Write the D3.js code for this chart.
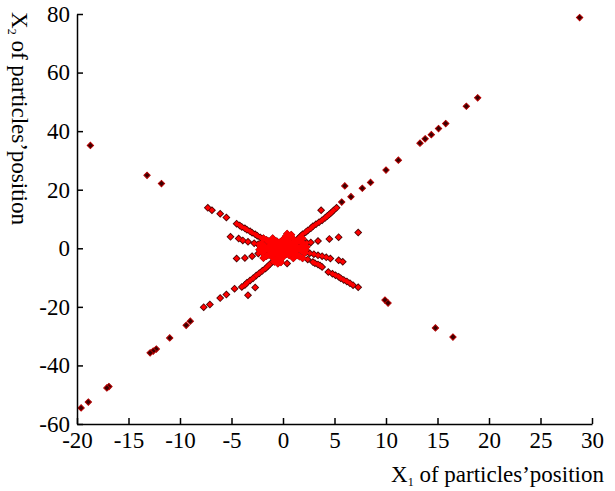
<!DOCTYPE html>
<html>
<head>
<meta charset="utf-8">
<script src="https://cdn.jsdelivr.net/npm/d3@7"></script>
<style>
  body { margin: 0; background: #fff; }
  svg { display: block; }
  .axis text { font-family: "Liberation Serif", "Times New Roman", serif; font-size: 23px; fill: #000; }
  .axis path, .axis line { stroke: #000; stroke-width: 1.5; }
  .title { font-family: "Liberation Serif", "Times New Roman", serif; font-size: 23px; fill: #000; }
</style>
</head>
<body>
<svg id="chart" width="615" height="491"></svg>
<script>
// tick labels
var xTicks = [-20, -15, -10, -5, 0, 5, 10, 15, 20, 25, 30];
var yTicks = [-60, -40, -20, 0, 20, 40, 60, 80];

// isolated particles far from the swarm centre  [x1, x2]
var farPoints = [
  [28.8, 78.8], [18.9, 51.4], [17.8, 48.5], [15.8, 42.6], [15.1, 40.9], [14.4, 38.8],
  [13.8, 37.4], [13.3, 35.9], [11.2, 30.1], [10.0, 26.7], [8.5, 22.5], [7.7, 20.5],
  [6.0, 21.3], [6.6, 17.6], [5.7, 15.8],
  [-18.7, 35.1], [-13.2, 24.9], [-11.8, 22.1],
  [9.9, -17.7], [10.2, -18.7], [14.8, -27.2], [16.5, -30.3],
  [-9.0, -24.9], [-9.4, -26.3], [-11.0, -30.6], [-12.3, -34.4], [-12.6, -35.1], [-12.9, -35.7],
  [-16.9, -47.2], [-17.1, -47.7], [-18.9, -52.5], [-19.6, -54.5]
];

// particles along the arms of the X
var armPoints = [
  [3.7, 13.0], [7.3, 5.4],
  [5.2, 13.8], [4.9, 12.9], [4.7, 12.2], [4.5, 11.6], [4.3, 11.0], [4.1, 10.4], [3.8, 9.6], [3.5, 8.9], [3.2, 8.2],
  [2.9, 7.5], [2.7, 6.8], [2.4, 6.1], [2.2, 5.5], [1.9, 4.8], [1.7, 4.1], [1.5, 3.4], [1.3, 2.7],
  [5.4, 3.8], [4.5, 3.2], [3.4, 2.5], [2.7, 2.0], [2.3, 1.9], [2.0, 1.7],
  [5.8, -4.6], [5.4, -4.1], [4.6, -3.5], [4.2, -3.1], [3.8, -2.7], [3.4, -2.4], [3.0, -2.0], [2.6, -1.7], [2.2, -1.4],
  [3.8, -6.4], [3.6, -5.9], [3.4, -5.5], [3.1, -5.1], [2.9, -4.7], [2.4, -3.8],
  [4.4, -8.1], [4.8, -8.7], [5.1, -9.2], [5.4, -9.7], [5.6, -10.2], [5.9, -10.8], [6.2, -11.3], [6.5, -11.9],
  [6.8, -12.6], [7.3, -13.3],
  [0.4, -5.2],
  [-7.3, 13.8], [-6.9, 13.0], [-6.1, 11.8], [-5.5, 10.5],
  [-4.5, 8.4], [-4.2, 7.8], [-4.0, 7.3], [-3.7, 6.8], [-3.5, 6.3], [-3.2, 5.8], [-3.0, 5.3], [-2.7, 4.8],
  [-2.5, 4.3], [-2.2, 3.7], [-2.0, 3.2],
  [-5.1, 3.9], [-4.3, 3.3], [-3.9, 2.7], [-3.4, 2.2], [-2.8, 1.7], [-2.4, 1.4],
  [-4.5, -3.5], [-3.7, -3.3], [-3.0, -2.7], [-2.4, -1.8], [-1.8, -1.0],
  [-4.0, -13.2], [-3.7, -12.5], [-3.5, -11.8], [-3.2, -11.0], [-2.9, -10.2], [-2.6, -9.3], [-2.3, -8.5],
  [-2.0, -7.7], [-1.7, -6.9], [-1.5, -6.2], [-1.3, -5.5], [-1.0, -4.6], [-0.8, -3.8],
  [-4.7, -13.8], [-5.5, -15.8], [-6.1, -17.0], [-7.1, -19.2], [-7.7, -20.1],
  [-2.7, -13.4], [-3.4, -16.0]
];

// dense cloud at the centre
var corePoints = [
  [0, 0], [0.4, 0.6], [-0.4, -0.6], [0.8, 1.2], [-0.8, -1.2], [1.2, 1.9], [-1.2, -1.9], [1.6, 2.6], [-1.6, -2.6],
  [0.4, -0.7], [-0.4, 0.7], [0.8, -1.4], [-0.8, 1.4], [1.2, -2.1], [-1.2, 2.1], [1.6, -2.8], [-1.6, 2.8],
  [0, 1.5], [0, -1.5], [0, 3], [0, -3], [0.3, 4.2], [-0.3, -4.2], [0.5, 3.6], [-0.5, -3.6],
  [0.8, 0], [-0.8, 0], [1.4, 0.4], [-1.4, -0.4], [1.9, 0], [-1.9, 0], [1.4, -0.6], [-1.4, 0.6],
  [0.6, 2.2], [-0.6, -2.2], [-0.6, 2.4], [0.6, -2.4], [1, 3.2], [-1, -3.2], [-1, 3.4], [1, -3.4],
  [2.0, 1.5], [-2.0, -1.5], [2.1, -1.6], [-2.1, 1.6], [-0.2, -4.8],
  [0.2, 0.3], [-0.2, -0.3], [0.6, 0.9], [-0.6, -0.9], [1.0, 1.5], [-1.0, -1.5], [1.4, 2.2], [-1.4, -2.2],
  [0.6, -1.0], [-0.6, 1.0], [1.0, -1.8], [-1.0, 1.8], [1.4, -2.4], [-1.4, 2.4],
  [0.3, 2.2], [-0.3, -2.2], [0.3, -2.0], [-0.3, 2.0], [1.1, 0.8], [-1.1, -0.8], [1.1, -0.9], [-1.1, 0.9],
  [0.5, 0.3], [-0.5, -0.3], [0.2, -1.2], [-0.2, 1.2], [1.8, 0.8], [-1.8, -0.8], [1.8, -0.8], [-1.8, 0.8],
  [2.3, 0.5], [-2.3, -0.5], [2.2, -0.6], [-2.2, 0.6], [0.4, 5.0], [-0.5, -5.2], [1.9, 3.3], [-1.9, -3.3],
  [1.9, -3.4], [-1.9, 3.4], [0.8, 4.6], [-0.8, -4.6]
];

var svg = d3.select("#chart");

var x = d3.scaleLinear().domain([-20, 30]).range([77, 592]);
var y = d3.scaleLinear().domain([-60, 80]).range([424, 14]);

// small diamond = square turned by 45 degrees
function place(d) { return "translate(" + x(d[0]) + "," + y(d[1]) + ") rotate(45)"; }

// far points: dark core with reddish rim
svg.append("g").selectAll("path")
  .data(farPoints)
  .enter()
  .append("path")
  .attr("transform", place)
  .attr("d", d3.symbol().type(d3.symbolSquare).size(20))
  .style("fill", "#3a0000")
  .style("stroke", "#b40000")
  .style("stroke-width", 1);

// swarm: dark outline layer, then red on top
function drawSwarm(pts, outer, inner) {
  svg.append("g").selectAll("path")
    .data(pts)
    .enter()
    .append("path")
    .attr("transform", place)
    .attr("d", d3.symbol().type(d3.symbolSquare).size(outer))
    .style("fill", "#4a0000");
  return svg.append("g").selectAll("path")
    .data(pts)
    .enter()
    .append("path")
    .attr("transform", place)
    .attr("d", d3.symbol().type(d3.symbolSquare).size(inner))
    .style("fill", "#ff0000");
}

drawSwarm(armPoints.concat(corePoints), 32, 16);
// the core is so crowded it reads as one red mass
svg.append("g").selectAll("path")
  .data(corePoints)
  .enter()
  .append("path")
  .attr("transform", place)
  .attr("d", d3.symbol().type(d3.symbolSquare).size(30))
  .style("fill", "#ff0000");

// axes, ticks pointing inward, plain hyphen for negatives
var fmt = function(d) { return String(d); };

svg.append("g")
  .attr("class", "axis")
  .attr("transform", "translate(0," + y(-60) + ")")
  .call(d3.axisBottom(x).tickValues(xTicks).tickFormat(fmt).tickSizeInner(-6).tickSizeOuter(0).tickPadding(8));

svg.append("g")
  .attr("class", "axis")
  .attr("transform", "translate(" + x(-20) + ",0)")
  .call(d3.axisLeft(y).tickValues(yTicks).tickFormat(fmt).tickSizeInner(-6).tickSizeOuter(0).tickPadding(7));

// axis titles
var xt = svg.append("text")
  .attr("class", "title")
  .attr("x", 604)
  .attr("y", 482)
  .attr("text-anchor", "end");
xt.append("tspan").text("X");
xt.append("tspan").attr("dy", 4).style("font-size", "12px").text("1");
xt.append("tspan").attr("dy", -4).text(" of particles\u2019position");

var yt = svg.append("text")
  .attr("class", "title")
  .attr("transform", "translate(12,12) rotate(90)")
  .attr("text-anchor", "start");
yt.append("tspan").text("X");
yt.append("tspan").attr("dy", 4).style("font-size", "12px").text("2");
yt.append("tspan").attr("dy", -4).text(" of particles\u2019position");
</script>
</body>
</html>
